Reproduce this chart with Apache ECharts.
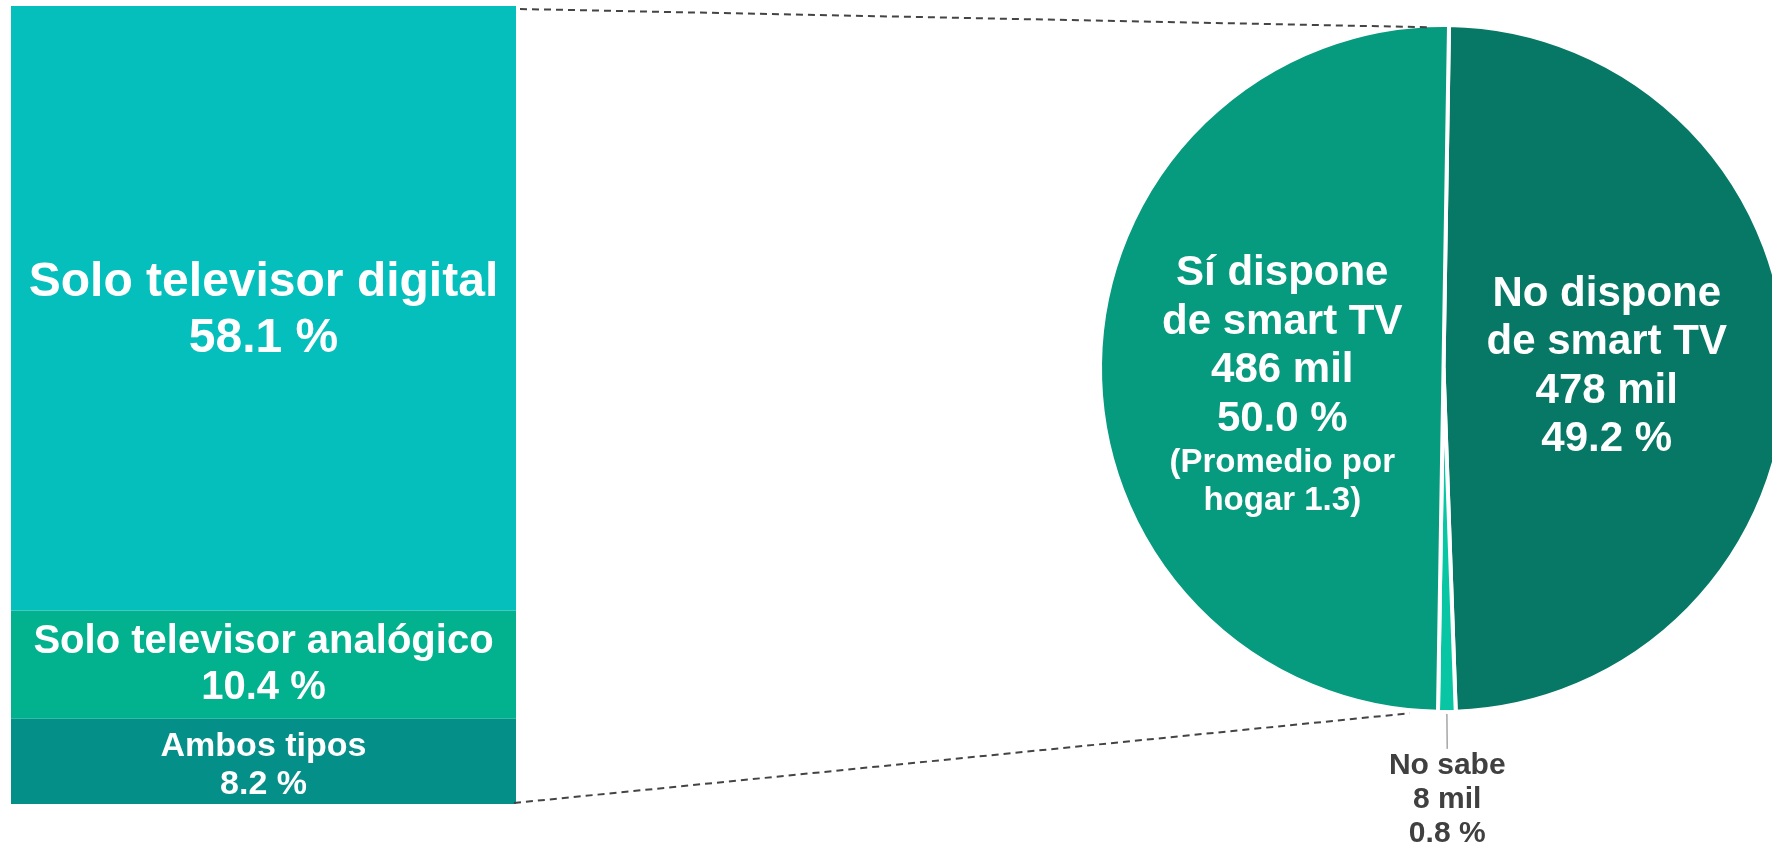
<!DOCTYPE html>
<html><head><meta charset="utf-8">
<script src="https://cdn.jsdelivr.net/npm/echarts@6/dist/echarts.min.js"></script>
<style>html,body{margin:0;padding:0;background:#fff;}#c{width:1772px;height:843px;}</style>
</head><body><div id="c"></div>
<script>
// ---- data ----
const barCategories = ['Ambos tipos', 'Solo televisor analógico', 'Solo televisor digital'];
const barValues = [8.2, 10.4, 58.1];           // %
const pieNames = ['No dispone\nde smart TV', 'No sabe', 'Sí dispone\nde smart TV'];
const pieValues = [478, 8, 486];               // miles de hogares
const pieNotes = ['', '', '(Promedio por\nhogar 1.3)'];

// ---- styles ----
const FONT = "'Liberation Sans', Arial, sans-serif";
const barColors = ['#058F89', '#02B18D', '#05BFBC'];
const barFont = [34, 40, 48];
const barLine = [38, 46, 56];
const barLabelShift = [4, 0, 3];
const pieColors = ['#067865', '#08C6A4', '#069A7E'];
const pieLabelPad = [[0, 23, 0, 0], null, [38, 0, 0, 27]];
const pieCenter = [1443.5, 368.4];
const pieRadius = 343.5;

const barTotal = barValues.reduce((a, b) => a + b, 0);
const pieTotal = pieValues.reduce((a, b) => a + b, 0);

const chart = echarts.init(document.getElementById('c'), null, {renderer: 'canvas'});

const barSeries = barCategories.map((name, i) => ({
  type: 'bar', name: name, stack: 'tv', barWidth: '100%', barCategoryGap: 0,
  data: [barValues[i]],
  itemStyle: {color: barColors[i]},
  silent: true,
  label: {
    show: true, position: 'inside', color: '#fff', fontFamily: FONT, fontWeight: 'bold',
    fontSize: barFont[i], lineHeight: barLine[i], offset: [0, barLabelShift[i]],
    formatter: () => name + '\n' + barValues[i].toFixed(1) + ' %'
  }
}));

const pieData = pieNames.map((n, i) => {
  const item = {name: n, value: pieValues[i], itemStyle: {color: pieColors[i]}};
  if (i === 1) {
    item.label = {position: 'outside', distanceToLabelLine: 0};
    item.labelLine = {show: true, length: 37, length2: 0, lineStyle: {color: '#a6a6a6', width: 1.5}};
  } else {
    item.label = {padding: pieLabelPad[i]};
  }
  return item;
});

chart.setOption({
  animation: false,
  backgroundColor: '#fff',
  grid: {left: 11, top: 6, width: 505, height: 798},
  xAxis: {type: 'category', data: ['TV'], show: false},
  yAxis: {type: 'value', min: 0, max: barTotal, show: false},
  series: barSeries.concat([{
    type: 'pie',
    center: pieCenter,
    radius: pieRadius,
    startAngle: 89.08,
    clockwise: true,
    silent: true,
    avoidLabelOverlap: false,
    itemStyle: {borderColor: '#fff', borderWidth: 4},
    data: pieData,
    label: {
      show: true, position: 'inside', color: '#fff', fontFamily: FONT, fontWeight: 'bold',
      formatter: (p) => {
        const i = p.dataIndex;
        const pct = (pieValues[i] / pieTotal * 100).toFixed(1) + ' %';
        const tag = i === 1 ? 'c' : 'a';
        let s = p.name.split('\n').map(l => '{' + tag + '|' + l + '}').join('\n');
        s += '\n{' + tag + '|' + pieValues[i] + ' mil}\n{' + tag + '|' + pct + '}';
        if (pieNotes[i]) s += '\n' + pieNotes[i].split('\n').map(l => '{b|' + l + '}').join('\n');
        return s;
      },
      rich: {
        a: {fontSize: 42, lineHeight: 48.5, color: '#fff', fontWeight: 'bold', fontFamily: FONT, align: 'center'},
        b: {fontSize: 33, lineHeight: 38, color: '#fff', fontWeight: 'bold', fontFamily: FONT, align: 'center'},
        c: {fontSize: 30, lineHeight: 34, color: '#404040', fontWeight: 'bold', fontFamily: FONT, align: 'center'}
      }
    },
    labelLayout: (params) => {
      if (params.dataIndex === 1) return {align: 'center', verticalAlign: 'top'};
      return {};
    }
  }])
});

// ---- connector lines (derived from the library's bar layout and the pie geometry) ----
const topLayout = chart.getModel().getSeriesByIndex(2).getData().getItemLayout(0);
const botLayout = chart.getModel().getSeriesByIndex(0).getData().getItemLayout(0);
const barRight = topLayout.x + topLayout.width;
const barTop = Math.min(topLayout.y, topLayout.y + topLayout.height);
const barBottom = Math.max(botLayout.y, botLayout.y + botLayout.height);
const visR = pieRadius - 2;
function piePt(deg, rr) {
  const a = deg * Math.PI / 180;
  return [pieCenter[0] + rr * Math.cos(a), pieCenter[1] - rr * Math.sin(a)];
}
const tEnd = piePt(92.6, visR);
const bEnd = piePt(264.4, visR + 5);
const dash = {stroke: '#444', lineWidth: 2, lineDash: [7, 5]};
chart.setOption({
  graphic: [
    {type: 'line', silent: true, z: 10, shape: {x1: barRight + 4, y1: barTop + 3, x2: tEnd[0], y2: tEnd[1]}, style: dash},
    {type: 'line', silent: true, z: 10, shape: {x1: barRight - 2, y1: barBottom - 1, x2: bEnd[0], y2: bEnd[1]}, style: dash}
  ]
});
</script>
</body></html>
